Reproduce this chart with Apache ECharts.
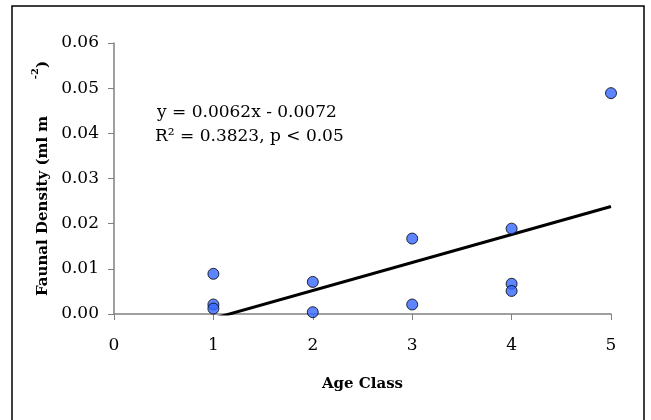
<!DOCTYPE html>
<html>
<head>
<meta charset="utf-8">
<script src="https://cdn.jsdelivr.net/npm/echarts@6/dist/echarts.min.js"></script>
<style>html,body{margin:0;padding:0;background:#fff}#c{width:651px;height:420px}</style>
</head>
<body>
<div id="c"></div>
<script>
const ageClass = [1, 1, 1, 2, 2, 3, 3, 4, 4, 4, 5];
const density = [0.0089, 0.0021, 0.0012, 0.0071, 0.0004, 0.0167, 0.0021, 0.0189, 0.0067, 0.0051, 0.0489];
const slope = 0.0062;
const intercept = -0.0072;
const trendX = [1, 5];
const xTicks = [0, 1, 2, 3, 4, 5];
const yTicks = [0, 0.01, 0.02, 0.03, 0.04, 0.05, 0.06];
const eqText = 'y = 0.0062x - 0.0072';
const r2Text = 'R\u00B2 = 0.3823, p < 0.05';

const FONT = 'DejaVu Serif';
const chart = echarts.init(document.getElementById('c'), null, {renderer: 'canvas'});
chart.setOption({
  animation: false,
  backgroundColor: '#fff',
  grid: {left: 114, right: 40, top: 43, bottom: 106},
  xAxis: {
    type: 'value', min: xTicks[0], max: xTicks[xTicks.length - 1], interval: 1,
    name: 'Age Class', nameLocation: 'middle', nameGap: 63,
    nameTextStyle: {fontFamily: FONT, fontWeight: 'bold', fontSize: 15, color: '#000'},
    axisLine: {lineStyle: {color: '#808080', width: 1.5}},
    axisTick: {show: true, inside: false, length: 6, lineStyle: {color: '#808080'}},
    axisLabel: {fontFamily: FONT, fontSize: 17, color: '#000', margin: 23},
    splitLine: {show: false}
  },
  yAxis: {
    type: 'value', min: yTicks[0], max: yTicks[yTicks.length - 1], interval: 0.01,
    name: '{a|Faunal Density (ml m       }{s|-2}{a|)}', nameLocation: 'middle', nameGap: 62,
    nameTextStyle: {
      rich: {
        a: {fontFamily: FONT, fontWeight: 'bold', fontSize: 15, color: '#000', lineHeight: 20, verticalAlign: 'bottom'},
        s: {fontFamily: FONT, fontWeight: 'bold', fontSize: 10, color: '#000', lineHeight: 20, verticalAlign: 'top'}
      }
    },
    axisLine: {show: true, lineStyle: {color: '#808080', width: 1.5}},
    axisTick: {show: true, inside: false, length: 6, lineStyle: {color: '#808080'}},
    axisLabel: {fontFamily: FONT, fontSize: 17, color: '#000', margin: 15,
      formatter: v => v.toFixed(2)},
    splitLine: {show: false}
  },
  series: [
    {
      type: 'line',
      data: trendX.map(x => [x, slope * x + intercept]),
      showSymbol: false, symbol: 'none',
      lineStyle: {color: '#000', width: 3},
      clip: true, z: 2
    },
    {
      type: 'scatter',
      data: ageClass.map((x, i) => [x, density[i]]),
      symbol: 'circle', symbolSize: 11,
      itemStyle: {color: '#3366FF', borderColor: '#000', borderWidth: 1},
      z: 3
    }
  ],
  graphic: [
    {type: 'rect', shape: {x: 12, y: 6, width: 632, height: 430},
     style: {fill: 'none', stroke: '#000', lineWidth: 1.5}, silent: true},
    {type: 'text', left: 157, top: 104,
     style: {text: eqText, font: '17px "DejaVu Serif"', fill: '#000'}},
    {type: 'text', left: 155, top: 128,
     style: {text: r2Text, font: '17px "DejaVu Serif"', fill: '#000'}}
  ]
});
</script>
</body>
</html>
